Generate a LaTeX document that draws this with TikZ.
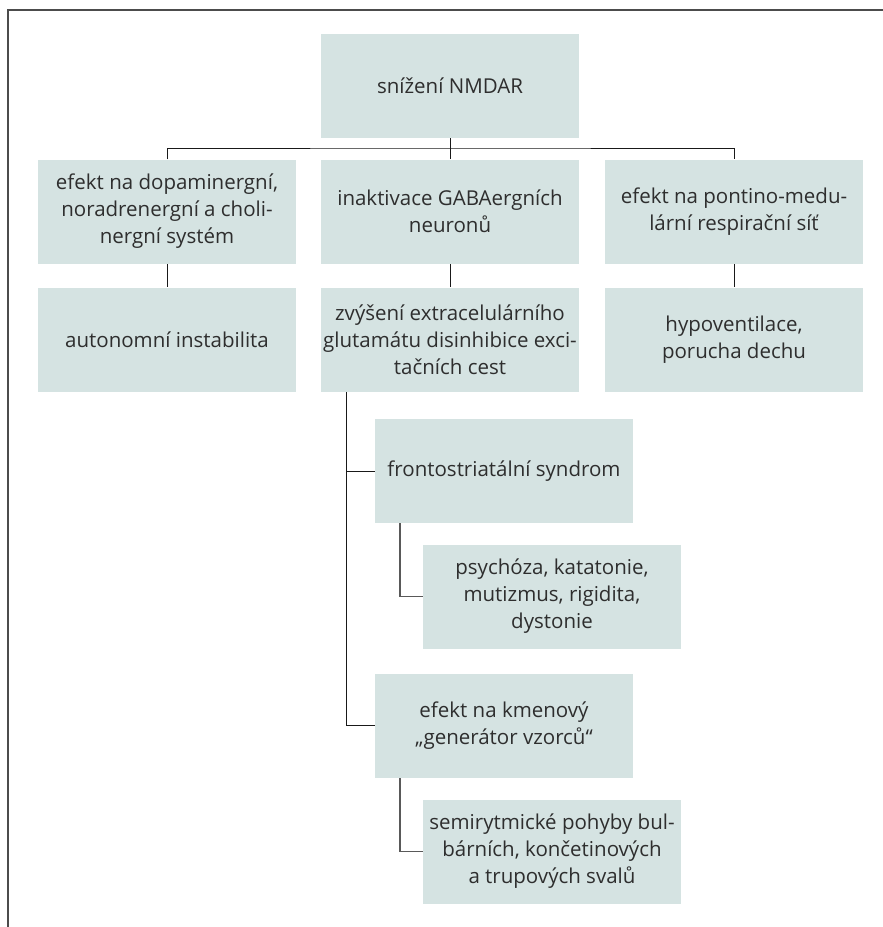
\documentclass[tikz,border=0pt]{standalone}
\usepackage{fontspec}
\setmainfont{Open Sans}
\usepackage{tikz}
\pgfdeclarelayer{edgelayer}
\pgfdeclarelayer{nodelayer}
\pgfsetlayers{edgelayer,nodelayer,main}
\definecolor{boxfill}{HTML}{D5E3E2}
\definecolor{boxtext}{HTML}{2E2E2E}
\tikzstyle{box}=[rectangle, fill=boxfill, text=boxtext, align=center, minimum width=258pt, minimum height=104pt, inner sep=0pt, font=\fontsize{20.5}{27}\selectfont]
\tikzstyle{edge}=[draw=black!90, line width=1pt]
\tikzstyle{subedge}=[draw=black!65, line width=1.6pt]
\tikzstyle{frame}=[draw=black!70, line width=1.3pt]

\begin{document}
\begin{tikzpicture}[x=1pt, y=-1pt]
	\useasboundingbox (0,0) rectangle (883,927);
	\begin{pgfonlayer}{nodelayer}

	%top
		\node [style=box] (1) at (450,86) {snížení NMDAR};

	%row 1
		\node [style=box] (2) at (167,211.5) {efekt na dopaminergní,\\noradrenergní a choli-\\nergní systém};
		\node [style=box] (3) at (450,211.5) {inaktivace GABAergních\\neuronů};
		\node [style=box] (4) at (734,211.5) {efekt na pontino-medu-\\lární respirační síť};

	%row 2
		\node [style=box] (5) at (167,339.5) {autonomní instabilita};
		\node [style=box] (6) at (450,339.5) {zvýšení extracelulárního\\glutamátu disinhibice exci-\\tačních cest};
		\node [style=box] (7) at (734,339.5) {hypoventilace,\\porucha dechu};

	%branches
		\node [style=box] (8) at (504,471) {frontostriatální syndrom};
		\node [style=box] (9) at (552,596.5) {psychóza, katatonie,\\mutizmus, rigidita,\\dystonie};
		\node [style=box] (10) at (504,725.5) {efekt na kmenový\\„generátor vzorců“};
		\node [style=box] (11) at (552,851.5) {semirytmické pohyby bul-\\bárních, končetinových\\a trupových svalů};

		\coordinate (bus) at (450,148);

	\end{pgfonlayer}
	\begin{pgfonlayer}{edgelayer}

		%frame
		\draw [style=frame] (8,927) -- (8,10) -- (883,10);

		%tree
		\draw [style=edge] (1) to (bus);
		\draw [style=edge] (2.north) |- (bus) -| (4.north);
		\draw [style=edge] (bus) to (3);
		\draw [style=edge] (2) to (5);
		\draw [style=edge] (3) to (6);
		\draw [style=edge] (4) to (7);
		\draw [style=edge] (6.south -| 346,0) |- (8.west);
		\draw [style=edge] (6.south -| 346,0) |- (10.west);
		\draw [style=subedge] (8.south -| 400,0) |- (9.west);
		\draw [style=subedge] (10.south -| 400,0) |- (11.west);

	\end{pgfonlayer}
\end{tikzpicture}
\end{document}
